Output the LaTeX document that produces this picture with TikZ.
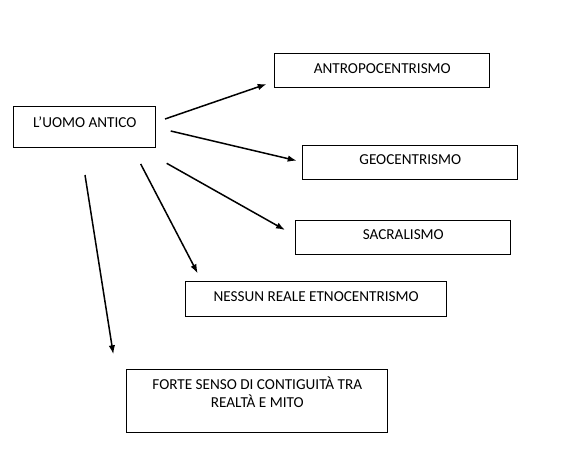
\documentclass[tikz,border=0pt]{standalone}
\usepackage{fontspec}
\setmainfont{Carlito}
\usetikzlibrary{arrows.meta}
\tikzset{
  box/.style={draw=black, line width=1pt, fill=white, anchor=north west, inner xsep=0pt, inner ysep=0pt,
    align=center, font=\fontsize{15.2}{18.3}\selectfont, text height=#1},
  box/.default=19.7pt,
  arr/.style={line width=1.5pt, -{Latex[length=9pt,width=6.5pt]}}
}
\begin{document}
\begin{tikzpicture}[x=1pt,y=-1pt]
\useasboundingbox[fill=white] (0,0) rectangle (584,471);
% boxes: top-left corner, width, height
\node[box=20.7pt, minimum width=142pt, minimum height=41pt, text depth=20.3pt] (uomo) at (13.3,106) {L’UOMO ANTICO};
\node[box=19.4pt, minimum width=215pt, minimum height=34pt, text depth=14.6pt] (antro) at (274.3,53.3) {ANTROPOCENTRISMO};
\node[box=19.3pt, minimum width=215pt, minimum height=34pt, text depth=14.7pt] (geo) at (302.3,145) {GEOCENTRISMO};
\node[box=19pt, minimum width=215pt, minimum height=34pt, text depth=15pt] (sacr) at (295.3,220.3) {SACRALISMO};
\node[box=19.7pt, minimum width=260.7pt, minimum height=35pt, text depth=15.3pt] (ness) at (185.3,281) {NESSUN REALE ETNOCENTRISMO};
\node[box=38.3pt, minimum width=261pt, minimum height=63.6pt, text depth=25.3pt] (forte) at (126.3,368.7) {FORTE SENSO DI CONTIGUITÀ TRA\\REALTÀ E MITO};
% arrow end points
\coordinate (s1) at (165,119);   \coordinate (e1) at (266.7,84);
\coordinate (s2) at (170.7,131); \coordinate (e2) at (296.7,160.7);
\coordinate (s3) at (166.7,163.3); \coordinate (e3) at (285,230);
\coordinate (s4) at (140.7,164); \coordinate (e4) at (197.7,273.3);
\coordinate (s5) at (85,175);    \coordinate (e5) at (113.3,354.3);
\draw[arr] (s1) -- (e1);
\draw[arr] (s2) -- (e2);
\draw[arr] (s3) -- (e3);
\draw[arr] (s4) -- (e4);
\draw[arr] (s5) -- (e5);
\end{tikzpicture}
\end{document}
